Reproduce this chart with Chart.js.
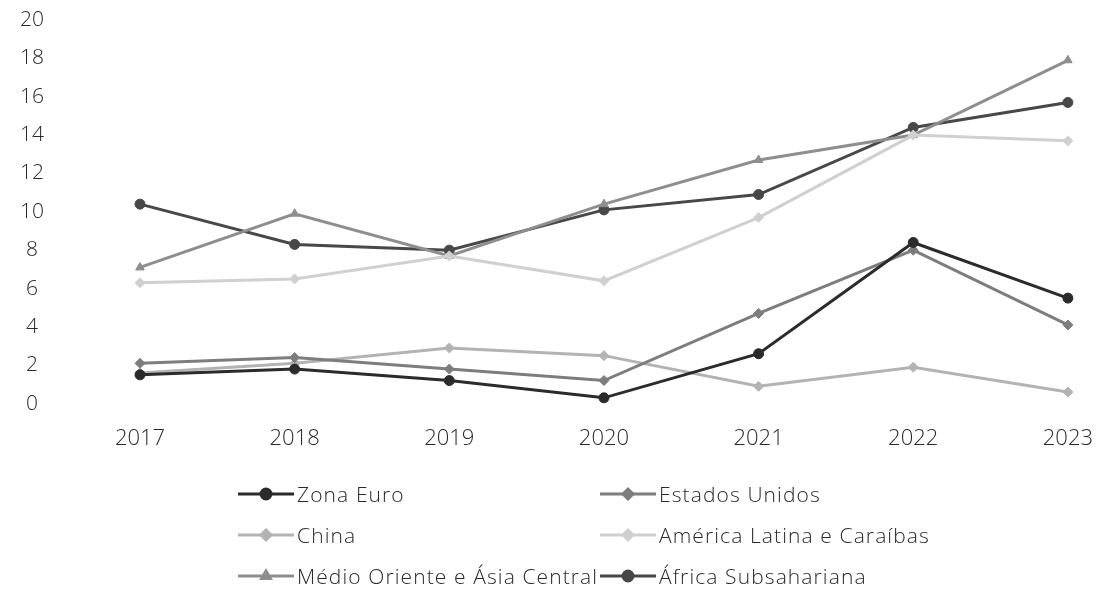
<!DOCTYPE html>
<html>
<head>
<meta charset="utf-8">
<script src="https://cdn.jsdelivr.net/npm/chart.js@4/dist/chart.umd.min.js"></script>
<style>
  html, body { margin: 0; padding: 0; background: #fff; }
  #wrap { position: relative; width: 1115px; height: 599px; }
  #legend {
    position: absolute; left: 238px; top: 479px;
    display: grid; grid-template-columns: 362px 330px; row-gap: 11px;
    font-family: "Open Sans", sans-serif; font-weight: 300; font-size: 21px;
    letter-spacing: 1.1px; color: #2a2a2a;
  }
  .item { display: flex; align-items: center; height: 30px; white-space: nowrap; }
  .item canvas { margin-right: 3px; }
</style>
</head>
<body>
<div id="wrap">
  <canvas id="inflation-chart" width="1115" height="599"></canvas>
  <div id="legend"></div>
</div>
<script>
const years = ['2017', '2018', '2019', '2020', '2021', '2022', '2023'];
const yTicks = [0, 2, 4, 6, 8, 10, 12, 14, 16, 18, 20];

const zonaEuro = [1.5, 1.8, 1.2, 0.3, 2.6, 8.4, 5.5];
const estadosUnidos = [2.1, 2.4, 1.8, 1.2, 4.7, 8.0, 4.1];
const china = [1.6, 2.1, 2.9, 2.5, 0.9, 1.9, 0.6];
const americaLatina = [6.3, 6.5, 7.7, 6.4, 9.7, 14.0, 13.7];
const medioOriente = [7.1, 9.9, 7.7, 10.4, 12.7, 14.0, 17.9];
const africaSub = [10.4, 8.3, 8.0, 10.1, 10.9, 14.4, 15.7];

function serie(label, data, color, style) {
    return {
        label: label,
        data: data,
        borderColor: color,
        backgroundColor: color,
        borderWidth: 3,
        pointStyle: style,
        pointRadius: 5,
        pointBorderWidth: 1,
        tension: 0
    };
}

const datasets = [
    serie('Zona Euro', zonaEuro, '#2b2b2b', 'circle'),
    serie('Estados Unidos', estadosUnidos, '#7d7d7d', 'rectRot'),
    serie('China', china, '#b3b3b3', 'rectRot'),
    serie('América Latina e Caraíbas', americaLatina, '#d0d0d0', 'rectRot'),
    serie('Médio Oriente e Ásia Central', medioOriente, '#8e8e8e', 'triangle'),
    serie('África Subsahariana', africaSub, '#484848', 'circle')
];

const font = { family: '"Open Sans", sans-serif', weight: 300 };

new Chart(document.querySelector('#inflation-chart').getContext('2d'), {
    type: 'line',
    data: { labels: years, datasets: datasets },
    options: {
        responsive: false,
        animation: false,
        layout: { padding: { top: 20, right: 30, bottom: 125, left: 0 } },
        plugins: { legend: { display: false }, tooltip: { enabled: false } },
        scales: {
            x: {
                grid: { display: false, drawTicks: false },
                border: { display: false },
                ticks: { padding: 22, color: '#2a2a2a', font: { ...font, size: 22 } }
            },
            y: {
                min: 0, max: 20,
                afterBuildTicks: scale => { scale.ticks = yTicks.map(v => ({ value: v })); },
                afterFit: scale => {
                    // keep the labels out on the left without shrinking the plot
                    scale.width = 140;
                    scale.paddingTop = 0;
                    scale.paddingBottom = 0;
                },
                grid: { display: false, drawTicks: false },
                border: { display: false },
                ticks: { autoSkip: false, padding: 96, crossAlign: 'center', color: '#2a2a2a', font: { ...font, size: 21 } }
            }
        }
    }
});

// legend: line swatch with the marker in the middle, two columns
const legend = document.querySelector('#legend');
datasets.forEach(ds => {
    const item = document.createElement('div');
    item.className = 'item';
    const sw = document.createElement('canvas');
    sw.width = 56; sw.height = 16;
    const c = sw.getContext('2d');
    c.strokeStyle = ds.borderColor;
    c.lineWidth = 3;
    c.beginPath(); c.moveTo(0, 8); c.lineTo(56, 8); c.stroke();
    c.fillStyle = ds.backgroundColor;
    Chart.helpers.drawPoint(c, { pointStyle: ds.pointStyle, radius: 5, borderWidth: 1 }, 28, 8);
    c.fill();
    const txt = document.createElement('span');
    txt.textContent = ds.label;
    item.appendChild(sw);
    item.appendChild(txt);
    legend.appendChild(item);
});
</script>
</body>
</html>
